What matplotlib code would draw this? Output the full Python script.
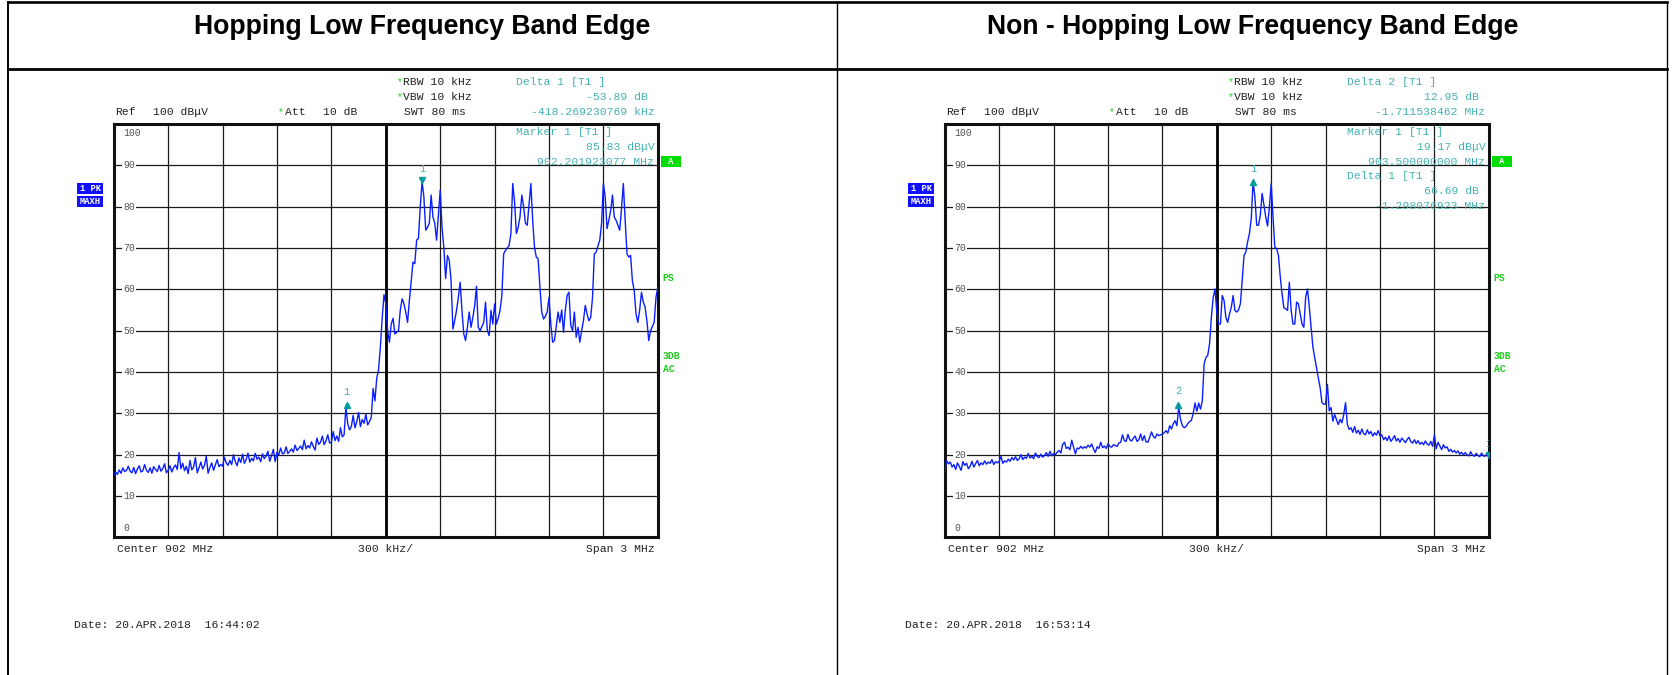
import numpy as np
import matplotlib.pyplot as plt
from matplotlib.patches import Rectangle
import matplotlib.transforms as mtransforms

# values
titles = ['Hopping Low Frequency Band Edge', 'Non - Hopping Low Frequency Band Edge']
dates = ['Date: 20.APR.2018  16:44:02', 'Date: 20.APR.2018  16:53:14']

f_start, f_stop = 900.5, 903.5   # MHz, center 902 / span 3
center_mhz = 902.0
db_ticks = [100, 90, 80, 70, 60, 50, 40, 30, 20, 10, 0]

# trace levels in dBuV, one value per 10 kHz from 900.5 to 903.5 MHz
hop_levels = [
    15.0, 15.8, 15.2, 16.3, 15.5, 16.8, 15.9, 16.2, 17.2, 16.0,
    15.6, 16.9, 15.4, 16.5, 17.3, 15.8, 16.1, 17.6, 16.2, 15.7,
    16.8, 15.5, 17.1, 16.4, 15.9, 17.4, 16.0, 16.6, 17.8, 15.6,
    16.2, 17.3, 15.8, 16.9, 17.5, 16.4, 20.5, 16.6, 17.9, 16.1,
    17.2, 15.4, 18.6, 16.3, 17.0, 19.3, 15.6, 16.8, 18.2, 16.5,
    17.4, 19.6, 15.5, 16.9, 18.0, 16.2, 17.5, 18.8, 17.1, 17.6,
    17.2, 19.4, 18.0, 17.4, 18.6, 17.6, 20.0, 18.3, 17.3, 19.2,
    18.1, 20.1, 17.9, 18.8, 20.4, 18.2, 19.1, 18.5, 20.3, 18.9,
    19.4, 18.3, 20.2, 19.0, 19.7, 20.8, 18.4, 19.8, 21.3, 18.3,
    20.6, 20.0, 21.6, 20.2, 20.4, 21.9, 20.3, 20.8, 21.4, 20.6,
    22.3, 21.0, 21.5, 22.1, 21.2, 23.5, 21.4, 22.2, 21.6, 23.1,
    22.0, 21.1, 24.0, 22.5, 23.0, 24.5, 22.4, 23.3, 24.8, 22.8,
    23.0, 25.6, 23.4, 24.5, 23.2, 26.5, 24.3, 24.8, 31.5, 27.5,
    26.0, 26.8, 29.5, 26.5, 28.0, 30.2, 26.8, 28.5, 27.6, 29.8,
    27.2, 28.0, 29.0, 36.0, 33.0, 38.5, 40.5, 46.0, 53.0, 58.7,
    56.5, 50.0, 47.2, 51.6, 53.0, 49.2, 49.6, 50.0, 55.0, 57.7,
    56.5, 54.5, 52.0, 57.3, 62.0, 66.6, 66.2, 71.9, 72.3, 80.0,
    86.0, 82.4, 74.3, 75.0, 76.0, 82.8, 77.5, 76.0, 71.9, 78.0,
    84.0, 75.0, 70.2, 62.6, 68.2, 67.0, 62.1, 50.4, 52.4, 54.9,
    58.0, 61.7, 54.9, 49.2, 47.6, 50.8, 54.5, 50.8, 53.2, 56.0,
    60.7, 50.8, 50.0, 51.0, 52.0, 56.9, 50.0, 48.8, 54.9, 51.6,
    56.5, 51.6, 53.0, 54.9, 58.5, 68.6, 69.4, 70.0, 70.6, 73.5,
    85.6, 81.2, 73.5, 75.0, 77.5, 82.8, 80.0, 76.0, 75.5, 80.4,
    85.6, 76.7, 70.2, 67.8, 67.4, 60.5, 54.5, 52.8, 53.5, 54.5,
    58.0, 51.6, 47.2, 47.6, 51.0, 54.5, 52.0, 55.0, 49.6, 55.0,
    58.5, 59.3, 51.2, 50.0, 54.5, 48.4, 50.8, 47.2, 50.0, 52.4,
    56.1, 54.0, 52.4, 53.2, 58.0, 68.6, 69.0, 70.5, 71.9, 76.0,
    85.6, 82.4, 74.7, 76.7, 79.0, 82.8, 77.5, 76.7, 75.5, 74.3,
    79.6, 85.6, 76.7, 68.6, 67.8, 68.2, 62.0, 59.7, 54.0, 52.0,
    55.0, 59.3, 56.9, 55.7, 52.4, 47.6, 50.0, 51.0, 52.0, 58.0,
    60.5,
]

nonhop_levels = [
    15.6, 18.5, 17.8, 18.2, 17.0, 17.6, 16.4, 18.0, 17.1, 16.2,
    18.3, 17.4, 17.9, 16.6, 17.2, 18.4, 17.0, 17.8, 18.6, 17.3,
    18.0, 17.6, 18.5, 17.7, 18.2, 17.9, 18.8, 17.6, 18.3, 18.0,
    18.4, 19.6, 17.9, 18.5, 18.2, 18.9, 18.4, 19.3, 18.7, 19.5,
    18.6, 19.0, 20.0, 18.8, 19.4, 19.1, 20.3, 19.2, 19.6, 19.0,
    20.4, 19.5, 19.3, 20.1, 19.4, 19.8, 20.5, 19.6, 20.8, 19.7,
    20.3, 20.0, 20.6, 21.0, 20.4, 22.5, 23.0, 21.5, 21.8, 21.2,
    23.5, 21.8, 20.2, 21.6, 21.4, 22.0, 21.5, 21.9, 21.6, 22.3,
    21.8, 22.6, 21.4, 20.5, 21.9, 21.5, 23.0, 21.7, 22.1, 21.5,
    22.6, 22.0, 21.8, 22.4, 22.2, 22.0, 22.8, 23.0, 24.8, 23.4,
    23.2, 24.9, 23.6, 23.3, 24.0, 24.5, 23.2, 23.6, 25.0, 23.4,
    24.6, 23.1, 23.0, 24.2, 25.5, 24.4, 24.0, 25.0, 24.6, 24.8,
    25.0, 25.3, 25.8, 25.2, 27.0, 26.2, 27.5, 28.2, 27.0, 31.4,
    28.5, 27.0, 26.5, 26.8, 27.5, 28.0, 28.3, 30.0, 32.5, 30.5,
    32.5, 31.0, 33.0, 41.9, 43.5, 44.0, 46.8, 53.2, 58.0, 60.1,
    54.5, 51.6, 51.6, 58.5, 57.3, 53.2, 52.0, 54.0, 55.7, 58.5,
    54.9, 54.5, 55.0, 56.5, 62.1, 68.2, 69.0, 71.5, 73.5, 77.1,
    86.0, 82.4, 75.5, 75.5, 77.9, 83.2, 80.4, 77.5, 75.3, 80.0,
    85.6, 77.5, 70.2, 69.8, 68.2, 63.0, 58.9, 55.5, 55.3, 54.9,
    61.7, 54.9, 51.6, 51.6, 56.9, 56.5, 54.0, 51.6, 50.8, 58.1,
    60.1, 55.7, 50.8, 46.0, 43.5, 41.1, 38.5, 36.2, 32.6, 32.2,
    32.2, 37.0, 30.6, 31.4, 28.1, 29.7, 28.5, 27.3, 28.5, 27.7,
    29.7, 32.6, 27.3, 26.1, 26.5, 25.4, 26.8, 25.2, 25.9, 24.9,
    26.2, 25.1, 24.8, 26.0, 25.0, 25.6, 24.5, 25.3, 24.7, 25.8,
    24.5, 24.8, 23.6, 24.2, 23.4, 24.5, 23.2, 23.8, 24.6, 23.3,
    23.9, 23.0, 24.0, 23.5, 22.9, 23.7, 24.2, 23.1, 22.8, 23.6,
    22.7, 23.4, 22.5, 23.0, 22.4, 23.3, 22.6, 22.3, 23.2, 22.0,
    24.8, 21.4, 23.0, 22.1, 21.2, 22.4, 21.6, 21.9, 20.8, 21.3,
    20.6, 21.0, 20.4, 20.9, 20.1, 20.6, 19.9, 20.5, 20.0, 19.7,
    20.7, 19.9, 19.6, 20.3, 19.8, 19.5, 20.4, 19.7, 19.6, 20.2,
    19.2,
]

# markers: (freq MHz, level dBuV, symbol, label)
hop_markers = [(902.201923077, 85.83, 'v', '1'),
               (901.783653846, 31.94, '^', '1')]
nonhop_markers = [(903.5, 19.17, 'v', '1'),
                  (902.201923077, 85.86, '^', '1'),
                  (901.788461538, 32.12, '^', '2')]

hop_info = ['Delta 1 [T1 ]', '-53.89 dB', '-418.269230769 kHz',
            'Marker 1 [T1 ]', '85.83 dB\u03bcV', '902.201923077 MHz']
nonhop_info = ['Delta 2 [T1 ]', '12.95 dB', '-1.711538462 MHz',
               'Marker 1 [T1 ]', '19.17 dB\u03bcV', '903.500000000 MHz',
               'Delta 1 [T1 ]', '66.69 dB', '-1.298076923 MHz']

W, H = 1675, 675
MONO = 'Liberation Mono'
TEAL_TXT = '#45b2b2'
TEAL_MK = '#009a9a'
GREEN = '#1ecc1e'

fig = plt.figure(figsize=(W / 100, H / 100), dpi=100)


def draw_panel(dx, levels, markers, info, title, date):
    ax = fig.add_axes([(113.8 + dx) / W, (H - 537.3) / H, 544 / W, 413.3 / H])
    freqs = np.linspace(f_start, f_stop, len(levels))
    ax.set_xlim(f_start, f_stop)
    ax.set_ylim(0, 100)
    ax.set_xticks(np.linspace(f_start, f_stop, 11)[1:-1])
    ax.set_yticks(db_ticks)
    ax.grid(True, color='#1a1a1a', lw=0.9, zorder=0)
    ax.set_axisbelow(True)
    ax.tick_params(length=0, labelbottom=False, labelleft=False)
    for s in ax.spines.values():
        s.set_linewidth(2.2)
        s.set_color('#111111')
    ax.axvline(center_mhz, color='black', lw=2.0, zorder=1)

    # y scale numbers inside the frame
    for v in db_ticks:
        dy = -6.2 if v == 100 else (6.5 if v == 0 else 0)
        ax.annotate(str(v), xy=(0, v), xycoords=ax.get_yaxis_transform(),
                    xytext=(6.8, dy), textcoords='offset points', ha='left', va='center',
                    fontsize=7, color='#555555', family=MONO, zorder=2,
                    bbox=dict(fc='white', ec='none', pad=0.8) if 0 < v < 100 else None)

    ax.plot(freqs, levels, color='#0a1eff', lw=1.0, zorder=3)

    for f, lvl, sym, lab in markers:
        off = mtransforms.offset_copy(ax.transData, fig=fig, x=0,
                                      y=(2.0 if sym == 'v' else 0), units='points')
        ax.plot(f, lvl, marker=sym, ms=5, color=TEAL_MK, transform=off,
                linestyle='none', zorder=4, clip_on=True)
        ax.annotate(lab, (f, lvl), xytext=(0, 9.8), textcoords='offset points',
                    ha='center', va='center', fontsize=7.5, color=TEAL_TXT,
                    family=MONO, clip_on=True, annotation_clip=True)

    # header / settings texts (pixel layout)
    def put(x, y, s, color='#222222', size=8.2, ha='left', weight='normal'):
        ov.text(x + dx, y, s, ha=ha, va='center', fontsize=size, color=color,
                family=MONO, fontweight=weight)

    ov.text(422 + dx, 33.5, title, ha='center', va='baseline', fontsize=19.2,
            fontweight='bold', family='Liberation Sans', color='black')

    put(397.3, 82.3, '*', color=GREEN, size=7)
    put(403.3, 82.3, 'RBW 10 kHz')
    put(397.3, 96.7, '*', color=GREEN, size=7)
    put(403.3, 96.7, 'VBW 10 kHz')
    put(404, 112.3, 'SWT 80 ms')
    put(115, 112.3, 'Ref')
    put(152.7, 112.3, '100 dB\u03bcV')
    put(278, 112.3, '*', color=GREEN, size=7)
    put(285, 112.3, 'Att')
    put(323.3, 112.3, '10 dB')

    rows_y = [82.3, 96.7, 112.3, 132.3, 147.3, 161.7, 175.7, 190.7, 206.0]
    for k, s in enumerate(info):
        if k % 3 == 0:
            put(516, rows_y[k], s, color=TEAL_TXT)
        else:
            put(647.7 if s.endswith('dB') else 654.3, rows_y[k], s, color=TEAL_TXT, ha='right')

    # green "A" box and side labels
    ov.add_patch(Rectangle((661 + dx, 155.7), 20, 11.3, fc='#00dd00', ec='none'))
    put(671, 161.4, 'A', color='white', size=6.5, ha='center', weight='bold')
    put(662.7, 278.3, 'PS', color=GREEN, size=7, weight='bold')
    put(662.7, 356, '3DB', color=GREEN, size=7, weight='bold')
    put(662.7, 369.3, 'AC', color=GREEN, size=7, weight='bold')

    # blue trace info boxes
    ov.add_patch(Rectangle((77.3 + dx, 182.7), 25.7, 10.8, fc='#1010ff', ec='none'))
    put(90.1, 188.1, '1 PK', color='white', size=6.3, ha='center', weight='bold')
    ov.add_patch(Rectangle((77.3 + dx, 195.5), 25.7, 11, fc='#1010ff', ec='none'))
    put(90.1, 201, 'MAXH', color='white', size=6.3, ha='center', weight='bold')

    put(117, 549, 'Center 902 MHz')
    put(358, 549, '300 kHz/')
    put(654.5, 549, 'Span 3 MHz', ha='right')
    put(74, 625, date)
    return ax


ov = fig.add_axes([0, 0, 1, 1], zorder=5)
ov.set_xlim(0, W)
ov.set_ylim(H, 0)
ov.axis('off')

# table borders
ov.plot([7.5, 1667], [1.5, 1.5], color='black', lw=1.9)
ov.plot([7.5, 1667], [68.7, 68.7], color='black', lw=2.0)
ov.plot([7.5, 7.5], [1.5, H], color='black', lw=1.4)
ov.plot([836.5, 836.5], [1.5, H], color='black', lw=1.0)
ov.plot([1667, 1667], [1.5, H], color='black', lw=1.0)

draw_panel(0, hop_levels, hop_markers, hop_info, titles[0], dates[0])
draw_panel(831, nonhop_levels, nonhop_markers, nonhop_info, titles[1], dates[1])

fig.savefig('out.png', dpi=100)
